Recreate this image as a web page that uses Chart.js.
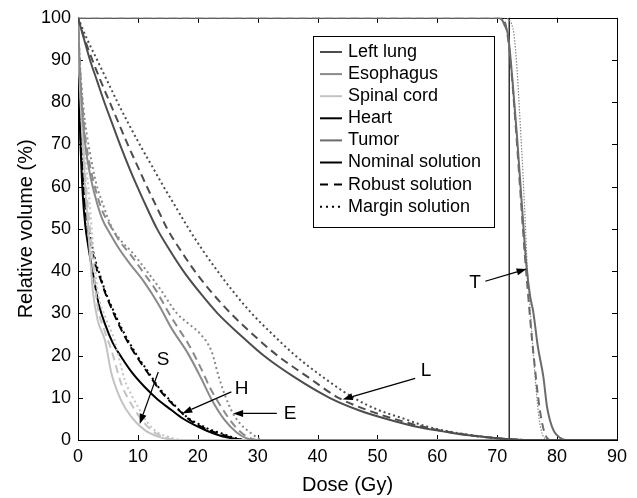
<!DOCTYPE html>
<html>
<head>
<meta charset="utf-8">
<script src="https://cdn.jsdelivr.net/npm/chart.js@4/dist/chart.umd.min.js"></script>
<style>
html,body{margin:0;padding:0;background:#fff;}
#wrap{width:637px;height:498px;position:relative;}
</style>
</head>
<body>
<div id="wrap"><canvas id="c" width="637" height="498"></canvas></div>
<script>
// ---------- DATA ----------
const xTickValues = [0,10,20,30,40,50,60,70,80,90];
const yTickValues = [0,10,20,30,40,50,60,70,80,90,100];
const xAxisTitle = 'Dose (Gy)';
const yAxisTitle = 'Relative volume (%)';
const organNames = ['Left lung','Esophagus','Spinal cord','Heart','Tumor'];
const solutionNames = ['Nominal solution','Robust solution','Margin solution'];
const prescriptionDose = [[72,0],[72,100]];

// DVH curves: [dose (Gy), relative volume (%)]
const lungNominal = [[0,100],[1,95],[2,90],[3.2,85],[4.4,80],[5.7,75],[7,70],[8.4,65],[9.9,60],[11.5,55],[13.2,50],[15.3,45],[17.6,40],[20.3,35],[23.3,30],[27,25],[31,20],[36,15],[42,10],[47,7],[52,4.8],[57,3],[62,1.8],[66,1],[70,0.4],[73,0.1],[75,0],[90,0]];
const lungRobust = [[0,100],[1.1,95],[2.4,90],[3.8,85],[5.3,80],[6.8,75],[8.3,70],[9.9,65],[11.5,60],[13.2,55],[14.9,50],[17.1,45],[19.5,40],[22.3,35],[25.5,30],[29.2,25],[33.3,20],[38.3,15],[43.5,10],[48.5,7],[53.5,4.7],[58,3],[62,1.9],[66,1],[70,0.4],[73,0.1],[75,0],[90,0]];
const lungMargin = [[0,100],[1.5,95],[3.2,90],[4.9,85],[6.6,80],[8.4,75],[10.3,70],[12.3,65],[14.3,60],[16.4,55],[18.5,50],[20.8,45],[23.3,40],[26,35],[29,30],[32.5,25],[36.3,20],[40.8,15],[46,10],[50,7.2],[54.5,5],[58,3.3],[62,2],[66,1.1],[70,0.4],[73,0.1],[75,0],[90,0]];

const esoNominal = [[0,100],[0.3,88],[0.7,78],[1.2,70],[2,63],[3,57],[4,52.5],[5.5,48.5],[7,45],[8.8,41.5],[11,37.5],[13.5,32],[15.6,26.5],[18.4,20.4],[20.6,14.5],[22.3,9.6],[24.5,4.7],[26.5,1.8],[28,0.5],[29.5,0],[90,0]];
const esoRobust = [[0,100],[0.3,89],[0.7,80],[1.2,72],[2,65],[3,59],[4,54.5],[5.5,50.5],[7,47],[9,43.5],[11,39.5],[13,35.5],[15,30.5],[16.5,27],[18.4,22.8],[20.6,16.8],[22,12.5],[23.4,9],[25,5.5],[26.5,2.8],[28,1],[30,0],[90,0]];
const esoMargin = [[0,100],[0.3,90],[0.7,82],[1.2,75],[2,68],[3,61],[4,56.5],[5.6,50.5],[7.2,47.2],[9,44.5],[11.5,40],[13.9,35.4],[16.5,30],[18.5,27.5],[20.5,25],[22.3,21],[23.5,15],[24.7,10],[25.8,6.5],[27,4],[28.9,1.6],[30,0.5],[31,0],[90,0]];

const cordNominal = [[0,100],[0.2,88],[0.5,78],[0.9,68],[1.3,58],[1.7,50],[2.1,42],[2.5,35],[3.3,28.3],[4.5,23.6],[5.6,15.7],[7.2,9.4],[8.9,5.5],[11.1,2.4],[13.4,0.8],[15,0.2],[16,0],[90,0]];
const cordRobust = [[0,100],[0.2,89],[0.5,80],[0.9,70],[1.3,61],[1.8,53],[2.3,45],[2.8,37],[3.3,31.4],[4.4,26],[5.6,21.2],[7.2,13.4],[8.3,10],[9.5,7.1],[10.5,5],[11.7,3.1],[13,1.6],[14.2,0.8],[15.5,0.2],[16.5,0],[90,0]];
const cordMargin = [[0,100],[0.2,90],[0.5,82],[0.9,73],[1.4,65],[1.9,57],[2.4,48],[2.9,40],[3.3,35],[4.6,29],[6.1,23.6],[7.8,14.2],[9,10.5],[10,7.9],[11,5.4],[12.2,3.1],[13.5,1.6],[15,0.8],[16.5,0.2],[18,0],[90,0]];

const heartNominal = [[0,100],[0.1,90],[0.25,78],[0.5,67],[0.8,58],[1.2,51],[1.7,46],[2.3,41],[2.8,37],[3.5,32],[4.5,27.5],[5.8,23],[7.2,19.7],[9,16],[11.1,12.6],[13.3,9.6],[15.6,7.1],[17.5,5.1],[19.5,3.5],[21.5,2.2],[23.4,1.2],[25,0.6],[26.7,0.2],[28,0],[90,0]];
const heartRobust = [[0,100],[0.1,91],[0.25,80],[0.5,70],[0.8,62],[1.2,55],[1.7,49.5],[2.2,46],[3,41],[3.8,38],[4.5,35],[5.8,30.5],[7.2,26.2],[8.6,22.5],[10,19.3],[11.7,15.8],[13.4,12.3],[15.3,9.2],[17.2,6.6],[18.6,4.8],[20,3.6],[22,2.2],[23.9,1.4],[25.5,0.6],[27,0.1],[28,0],[90,0]];
const heartMargin = [[0,100],[0.1,92],[0.25,81],[0.5,71],[0.8,63],[1.2,56],[1.7,50.5],[2.2,47.2],[3,42],[3.8,38.5],[4.5,35.4],[5.8,31],[7.2,26.7],[8.6,23],[10,19.7],[11.7,16.2],[13.4,12.6],[15.3,9.5],[17.2,6.7],[18.6,5],[20,3.9],[22,2.5],[23.9,1.6],[25.5,0.8],[27,0.2],[28,0],[90,0]];

const tumorNominal = [[0,100],[70,100],[70.8,99.5],[71.3,98],[71.8,96],[72.5,86],[73.3,72],[74.1,56],[74.9,41],[75.5,34],[76,30.5],[76.8,22],[77.7,15],[78.3,8],[78.8,4.7],[79.5,2],[80.5,0.5],[81.5,0],[90,0]];
const tumorRobust = [[0,100],[70.5,100],[71.2,99.3],[71.6,97],[72.2,90],[73,76],[73.8,60],[74.6,44],[75.3,32],[75.8,24],[76.3,17],[76.8,10.5],[77.3,5.5],[77.8,2.2],[78.3,0.5],[78.8,0],[90,0]];
const tumorMargin = [[0,100],[71,100],[71.8,99.7],[72.4,98.5],[72.8,96],[73.3,88],[73.8,76],[74.3,63],[74.7,51],[75,41.5],[75.5,31],[76,21],[76.5,12],[77,5],[77.5,1.5],[78,0.3],[78.5,0],[90,0]];

// Annotations (data coordinates): label, label position, arrow tail, arrow tip
const annotationLabels = ['S','H','E','L','T'];
const annotationLabelPos = [[14.2,18.9],[27.3,12.2],[35.4,6.3],[58.1,16.5],[66.3,37.2]];
const annotationTail = [[13.4,16.1],[25.6,11.4],[33.2,6.3],[56.3,14.6],[68.0,37.6]];
const annotationTip = [[10.3,3.8],[17.4,6.3],[25.9,6.3],[44.2,9.6],[74.9,40.5]];

// ---------- STYLES ----------
const FONT = '"Liberation Sans", Arial, Helvetica, sans-serif';
const organColors = ['#4d4d4d','#8a8a8a','#c3c3c3','#000000','#6b6b6b'];
const solutionDash = [[], [8,5], [2,3]];

const seriesTable = [
  [lungNominal, lungRobust, lungMargin],
  [esoNominal, esoRobust, esoMargin],
  [cordNominal, cordRobust, cordMargin],
  [heartNominal, heartRobust, heartMargin],
  [tumorNominal, tumorRobust, tumorMargin]
];

const toXY = arr => arr.map(p => ({x:p[0], y:p[1]}));
const datasets = [];
seriesTable.forEach((trio, oi) => {
  trio.forEach((pts, si) => {
    const thinTumorMargin = (oi === 4 && si === 2);
    datasets.push({
      label: organNames[oi] + ' – ' + solutionNames[si],
      data: toXY(pts),
      borderColor: thinTumorMargin ? '#888888' : organColors[oi],
      borderWidth: thinTumorMargin ? 1.2 : 2,
      borderDash: thinTumorMargin ? [1.5,1.5] : solutionDash[si],
      pointRadius: 0,
      fill: false,
      cubicInterpolationMode: 'monotone'
    });
  });
});
datasets.push({
  label: 'Prescription',
  data: toXY(prescriptionDose),
  borderColor: '#000', borderWidth: 1.2, pointRadius: 0, fill: false
});

// legend rows
const legendLabels = organNames.concat(solutionNames);
const legendColors = organColors.concat(['#000','#000','#000']);
const legendDash = [[],[],[],[],[],[],[8,6],[2,4]];

// ---------- PLUGINS ----------
const framePlugin = {
  id: 'frame',
  beforeDatasetsDraw(chart) {
    const {ctx, chartArea: a, scales} = chart;
    ctx.save();
    ctx.strokeStyle = '#000';
    ctx.lineWidth = 1;
    ctx.strokeRect(Math.round(a.left)+0.5, Math.round(a.top)+0.5, Math.round(a.right-a.left), Math.round(a.bottom-a.top));
    const tl = 5;
    ctx.beginPath();
    xTickValues.forEach(v => {
      const px = Math.round(scales.x.getPixelForValue(v)) + 0.5;
      ctx.moveTo(px, a.bottom); ctx.lineTo(px, a.bottom - tl);
      ctx.moveTo(px, a.top); ctx.lineTo(px, a.top + tl);
    });
    yTickValues.forEach(v => {
      const py = Math.round(scales.y.getPixelForValue(v)) + 0.5;
      ctx.moveTo(a.left, py); ctx.lineTo(a.left + tl, py);
      ctx.moveTo(a.right, py); ctx.lineTo(a.right - tl, py);
    });
    ctx.stroke();
    ctx.restore();
  }
};

function drawArrow(ctx, x0, y0, x1, y1) {
  const ang = Math.atan2(y1 - y0, x1 - x0);
  const hl = 10, hw = 3.5;
  const bx = x1 - hl * Math.cos(ang), by = y1 - hl * Math.sin(ang);
  ctx.beginPath(); ctx.moveTo(x0, y0); ctx.lineTo(bx, by); ctx.stroke();
  ctx.beginPath();
  ctx.moveTo(x1, y1);
  ctx.lineTo(bx + hw * Math.sin(ang), by - hw * Math.cos(ang));
  ctx.lineTo(bx - hw * Math.sin(ang), by + hw * Math.cos(ang));
  ctx.closePath(); ctx.fill();
}

const annotationPlugin = {
  id: 'annot',
  afterDatasetsDraw(chart) {
    const {ctx, scales} = chart;
    const X = v => scales.x.getPixelForValue(v), Y = v => scales.y.getPixelForValue(v);
    ctx.save();
    ctx.strokeStyle = '#000'; ctx.fillStyle = '#000'; ctx.lineWidth = 1.2;
    ctx.font = '19px ' + FONT;
    ctx.textAlign = 'center'; ctx.textBaseline = 'middle';
    annotationLabels.forEach((lab, i) => {
      ctx.fillText(lab, X(annotationLabelPos[i][0]), Y(annotationLabelPos[i][1]));
      drawArrow(ctx, X(annotationTail[i][0]), Y(annotationTail[i][1]), X(annotationTip[i][0]), Y(annotationTip[i][1]));
    });
    ctx.restore();
  }
};

const legendPlugin = {
  id: 'boxLegend',
  afterDraw(chart) {
    const ctx = chart.ctx;
    ctx.save();
    const bx = 313.5, by = 36.5, bw = 181, bh = 191;
    ctx.fillStyle = '#fff'; ctx.fillRect(bx, by, bw, bh);
    ctx.strokeStyle = '#000'; ctx.lineWidth = 1; ctx.strokeRect(bx, by, bw, bh);
    ctx.font = '18px ' + FONT;
    ctx.textBaseline = 'middle'; ctx.textAlign = 'left';
    legendLabels.forEach((lab, i) => {
      const y = 52 + i * 22.1;
      ctx.strokeStyle = legendColors[i]; ctx.lineWidth = 2; ctx.setLineDash(legendDash[i]);
      ctx.beginPath(); ctx.moveTo(320, y); ctx.lineTo(342, y); ctx.stroke();
      ctx.setLineDash([]);
      ctx.fillStyle = '#000';
      ctx.fillText(lab, 348, y);
    });
    ctx.restore();
  }
};

// ---------- CHART ----------
new Chart(document.getElementById('c'), {
  type: 'line',
  data: { datasets },
  options: {
    responsive: false,
    animation: false,
    events: [],
    layout: { padding: { left: 0, top: 16, right: 20, bottom: 0 } },
    plugins: { legend: { display: false }, tooltip: { enabled: false } },
    scales: {
      x: {
        type: 'linear', min: 0, max: 90,
        afterBuildTicks: s => { s.ticks = xTickValues.map(v => ({value: v})); },
        afterFit: s => { s.height = 58; },
        grid: { display: false, drawTicks: false },
        border: { display: false },
        ticks: { color: '#000', padding: 6, font: { family: FONT, size: 18 }, maxRotation: 0 },
        title: { display: true, text: xAxisTitle, color: '#000', font: { family: FONT, size: 20 }, padding: { top: 0, bottom: 1 } }
      },
      y: {
        type: 'linear', min: 0, max: 100,
        afterBuildTicks: s => { s.ticks = yTickValues.map(v => ({value: v})); },
        afterFit: s => { s.width = 78; },
        grid: { display: false, drawTicks: false },
        border: { display: false },
        ticks: { color: '#000', padding: 7, font: { family: FONT, size: 18 } },
        title: { display: true, text: yAxisTitle, color: '#000', font: { family: FONT, size: 20 }, padding: { top: 14, bottom: 0 } }
      }
    }
  },
  plugins: [framePlugin, annotationPlugin, legendPlugin]
});
</script>
</body>
</html>
